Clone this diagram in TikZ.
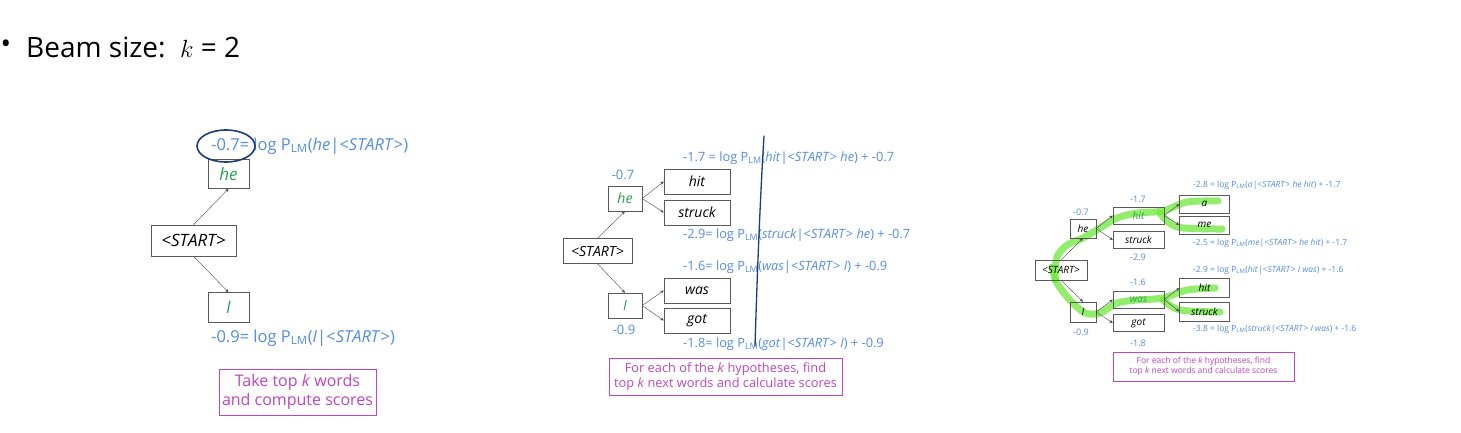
\documentclass[tikz,border=0pt]{standalone}
\usepackage{fontspec}
\setmainfont{Open Sans}
\usetikzlibrary{arrows.meta}
\definecolor{scoreblue}{RGB}{84,141,226}
\definecolor{wordgreen}{RGB}{40,160,80}
\definecolor{notepink}{RGB}{190,70,190}
\definecolor{inkblue}{RGB}{30,60,120}
\definecolor{hilite}{RGB}{110,232,60}
\newcommand{\fsz}[1]{\fontsize{#1}{1.2\dimexpr#1pt\relax}\selectfont}

\begin{document}
\begin{tikzpicture}[x=1pt, y=-1pt,
    word/.style={draw=black!65, inner sep=0pt, execute at begin node=\itshape},
    new/.style={text=wordgreen},
    score/.style={text=scoreblue, inner sep=0pt},
    note/.style={draw=notepink, text=notepink, align=center, inner sep=0pt},
    link/.style={draw=black!70, -{Stealth[length=3.5pt, width=3pt]}},
    ink/.style={draw=inkblue, line width=1.6pt, line cap=round},
    marker/.style={draw=hilite, line width=7pt, line cap=round, line join=round, opacity=0.75}]
\useasboundingbox[fill=white] (0,0) rectangle (1461,433);

\node[inner sep=0pt, font=\fsz{28}] (bullet) at (6,47) {\textbullet};
\node[inner sep=0pt, anchor=west, font=\fsz{28}] (beam) at (26,47) {Beam size:\ \ $k$ = 2};

% step 1
\begin{scope}[font=\fsz{17}]
\node[word, minimum width=85pt, minimum height=31pt] (s1) at (193.5,240.5) {<START>};
\node[word, new, minimum width=41pt, minimum height=29pt] (he1) at (228.5,174) {he};
\node[word, new, minimum width=41pt, minimum height=30pt] (I1) at (228.5,307.5) {I};
\draw[link] (s1.north) -- (he1.south);
\draw[link] (s1.south) -- (I1.north);
\node[score, anchor=west, font=\fsz{16.5}] (he1s) at (211,146) {-0.7= log P\textsubscript{LM}(\textit{he}|<\textit{START}>)};
\node[score, anchor=west, font=\fsz{16.5}] (I1s) at (211,338) {-0.9= log P\textsubscript{LM}(\textit{I}|<\textit{START}>)};
\node[note, minimum width=157pt, minimum height=46pt, font=\fsz{16}] (note1) at (297.5,392) {Take top \textit{k} words\\and compute scores};
\draw[ink] (226,146) ellipse [x radius=29pt, y radius=16pt];
\end{scope}

% step 2
\begin{scope}[font=\fsz{14}]
\node[word, minimum width=69pt, minimum height=25pt] (s2) at (597.5,251) {<START>};
\node[word, new, minimum width=34pt, minimum height=25pt] (he2) at (625,198.5) {he};
\node[word, new, minimum width=34pt, minimum height=25pt] (I2) at (625,305.5) {I};
\node[word, minimum width=66pt, minimum height=25pt] (hit2) at (697,181.5) {hit};
\node[word, minimum width=66pt, minimum height=25pt] (struck2) at (697,212.5) {struck};
\node[word, minimum width=66pt, minimum height=25pt] (was2) at (697,290.5) {was};
\node[word, minimum width=66pt, minimum height=25pt] (got2) at (697,320.5) {got};
\draw[link] (s2.north) -- (he2.south);
\draw[link] (s2.south) -- (I2.north);
\draw[link] (he2.east) -- (hit2.west);
\draw[link] (he2.east) -- (struck2.west);
\draw[link] (I2.east) -- (was2.west);
\draw[link] (I2.east) -- (got2.west);
\node[score, font=\fsz{13}] (he2s) at (623,175) {-0.7};
\node[score, font=\fsz{13}] (I2s) at (624,330) {-0.9};
\node[score, anchor=west, font=\fsz{12.8}] (hit2s) at (683,158) {-1.7 = log P\textsubscript{LM}(\textit{hit}|<\textit{START}> \textit{he}) + -0.7};
\node[score, anchor=west, font=\fsz{12.8}] (struck2s) at (683,235) {-2.9= log P\textsubscript{LM}(\textit{struck}|<\textit{START}> \textit{he}) + -0.7};
\node[score, anchor=west, font=\fsz{12.8}] (was2s) at (683,267) {-1.6= log P\textsubscript{LM}(\textit{was}|<\textit{START}> \textit{I}) + -0.9};
\node[score, anchor=west, font=\fsz{12.8}] (got2s) at (683,344) {-1.8= log P\textsubscript{LM}(\textit{got}|<\textit{START}> \textit{I}) + -0.9};
\node[note, minimum width=233pt, minimum height=37pt, font=\fsz{12.8}] (note2) at (725.5,376.5) {For each of the \textit{k} hypotheses, find\\top \textit{k} next words and calculate scores};
\draw[ink, line width=1.3pt] (764,136) .. controls (760,200) and (757,280) .. (755,346);
\end{scope}

% step 3
\begin{scope}[font=\fsz{10}]
\draw[marker] plot[smooth] coordinates {(1055,280) (1057,257) (1067,245) (1083,238) (1100,228) (1117,218) (1137,213) (1163,211) (1187,202) (1218,201)};
\draw[marker] plot[smooth] coordinates {(1160,213) (1177,227) (1222,229)};
\draw[marker] plot[smooth] coordinates {(1052,267) (1057,283) (1070,300) (1085,313) (1100,313) (1117,303) (1137,300) (1163,298) (1187,290) (1215,288)};
\draw[marker] plot[smooth] coordinates {(1163,300) (1180,310) (1220,312)};
\node[word, minimum width=52pt, minimum height=20pt] (s3) at (1061,270) {<START>};
\node[word, minimum width=26pt, minimum height=19pt] (he3) at (1083,228.5) {he};
\node[word, minimum width=26pt, minimum height=20pt] (I3) at (1083,312) {I};
\node[word, new, minimum width=51pt, minimum height=17pt] (hit3) at (1138.5,215.5) {hit};
\node[word, minimum width=51pt, minimum height=17pt] (struck3) at (1138.5,240) {struck};
\node[word, new, minimum width=51pt, minimum height=17pt] (was3) at (1138.5,299.5) {was};
\node[word, minimum width=51pt, minimum height=17pt] (got3) at (1138.5,323) {got};
\node[word, minimum width=50pt, minimum height=18pt] (a3) at (1204.5,204) {a};
\node[word, minimum width=50pt, minimum height=18pt] (me3) at (1204.5,225) {me};
\node[word, minimum width=50pt, minimum height=19pt] (hitb3) at (1204.5,288) {hit};
\node[word, minimum width=50pt, minimum height=19pt] (struckb3) at (1204.5,311.5) {struck};
\draw[link] (s3.north) -- (he3.south);
\draw[link] (s3.south) -- (I3.north);
\draw[link] (he3.east) -- (hit3.west);
\draw[link] (he3.east) -- (struck3.west);
\draw[link] (I3.east) -- (was3.west);
\draw[link] (I3.east) -- (got3.west);
\draw[link] (hit3.east) -- (a3.west);
\draw[link] (hit3.east) -- (me3.west);
\draw[link] (was3.east) -- (hitb3.west);
\draw[link] (was3.east) -- (struckb3.west);
\node[score, font=\fsz{9}] (he3s) at (1081,212) {-0.7};
\node[score, font=\fsz{9}] (I3s) at (1081,332) {-0.9};
\node[score, font=\fsz{9}] (hit3s) at (1138,199) {-1.7};
\node[score, font=\fsz{9}] (struck3s) at (1138,257) {-2.9};
\node[score, font=\fsz{9}] (was3s) at (1138,282) {-1.6};
\node[score, font=\fsz{9}] (got3s) at (1138,343) {-1.8};
\node[score, anchor=west, font=\fsz{8.5}] (a3s) at (1193,185) {-2.8 = log P\textsubscript{LM}(\textit{a}|<\textit{START}> \textit{he hit}) + -1.7};
\node[score, anchor=west, font=\fsz{8.5}] (me3s) at (1193,243) {-2.5 = log P\textsubscript{LM}(\textit{me}|<\textit{START}> \textit{he hit}) + -1.7};
\node[score, anchor=west, font=\fsz{8.5}] (hitb3s) at (1193,270) {-2.9 = log P\textsubscript{LM}(\textit{hit}|<\textit{START}> \textit{I was}) + -1.6};
\node[score, anchor=west, font=\fsz{8.5}] (struckb3s) at (1193,329) {-3.8 = log P\textsubscript{LM}(\textit{struck}|<\textit{START}> \textit{I was}) + -1.6};
\node[note, minimum width=181pt, minimum height=29pt, font=\fsz{8.5}] (note3) at (1203.5,366.5) {For each of the \textit{k} hypotheses, find\\top \textit{k} next words and calculate scores};
\end{scope}

\end{tikzpicture}
\end{document}
